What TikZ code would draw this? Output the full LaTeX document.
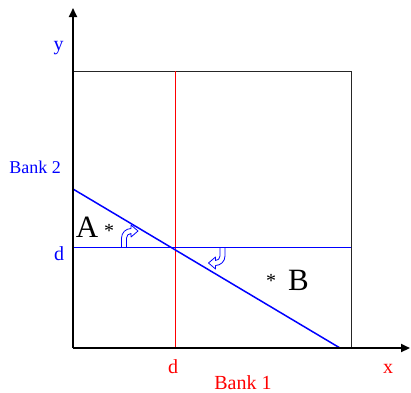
\documentclass[tikz,border=0pt]{standalone}
\usepackage{fontspec}
\setmainfont{Liberation Serif}
\usetikzlibrary{arrows.meta}

\begin{document}
\begin{tikzpicture}[
 x=1pt,y=-1pt,
 axis/.style={-{Triangle[length=9pt,width=8pt]},line width=2pt,black},
 boxline/.style={draw=black!85,line width=0.8pt},
 dline/.style={line width=1.3pt},
 lab/.style={anchor=base,inner sep=0pt},
 blab/.style={lab,text=blue,font=\fontsize{20}{24}\selectfont},
 rlab/.style={lab,text=red,font=\fontsize{20}{24}\selectfont},
 big/.style={lab,font=\fontsize{31}{36}\selectfont},
 star/.style={lab,font=\fontsize{20}{22}\selectfont},
 turn/.pic={\draw[blue,line width=0.8pt,line join=round]
   (-2.5,0) -- (-2.5,-9) .. controls (-2.5,-14.2) and (1.8,-18.5) .. (7,-18.5)
   -- (7,-22) -- (14,-16) -- (7,-10) -- (7,-13.5)
   .. controls (4.5,-13.5) and (2.5,-11.5) .. (2.5,-9) -- (2.5,0);}
]
\useasboundingbox (0,0) rectangle (411,392);
% axes and frame
\coordinate (o) at (73,348);
\coordinate (ytip) at (73,8);
\coordinate (xtip) at (410,348);
\coordinate (tl) at (73,71);
\coordinate (br) at (351,348);
\draw[boxline] (tl) -- (tl -| br) -- (br);
% middle lines
\coordinate (vtop) at (175.5,71);
\coordinate (vbot) at (175.5,348);
\coordinate (hleft) at (73,247.5);
\coordinate (hright) at (351,247.5);
\coordinate (lhigh) at (73,189);
\coordinate (llow) at (340,348);
\draw[dline,draw=red] (vtop) -- (vbot);
\draw[dline,draw=blue] (hleft) -- (hright);
\draw[draw=blue,line width=1.5pt] (lhigh) -- (llow);
\draw[axis] (o) -- (ytip);
\draw[axis] (o) -- (xtip);
% turning arrows
\pic at (124,247) {turn};
\pic[rotate=180] at (222.5,247) {turn};
% labels
\node[blab] (ylab) at (58.5,50) {y};
\node[lab,text=blue,font=\fontsize{18}{22}\selectfont] (bank2) at (35,173) {Bank 2};
\node[blab] (dy) at (59,260) {d};
\node[rlab] (dx) at (173,373) {d};
\node[rlab] (xlab) at (388,373) {x};
\node[lab,text=red,font=\fontsize{20}{24}\selectfont] (bank1) at (243,389) {Bank 1};
\node[big] (a) at (87,237) {A};
\node[star] (sa) at (109,237) {*};
\node[big] (b) at (298.5,290) {B};
\node[star] (sb) at (271,287) {*};
\end{tikzpicture}
\end{document}
